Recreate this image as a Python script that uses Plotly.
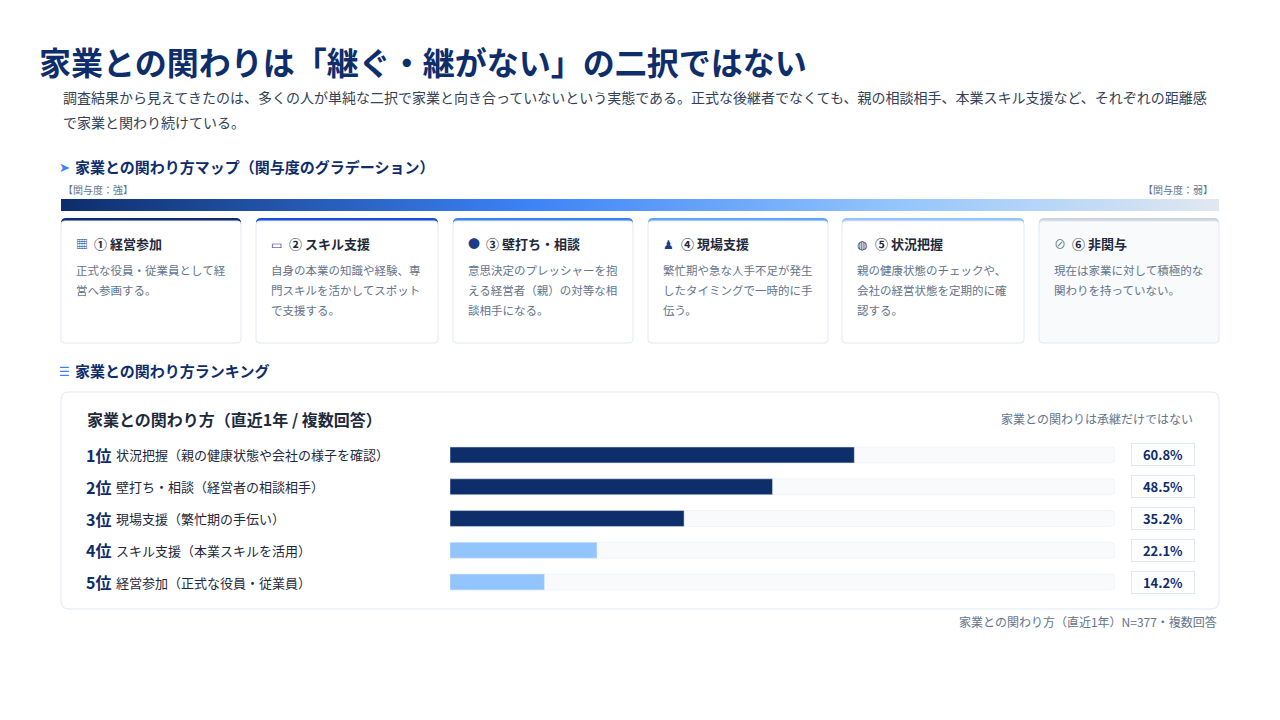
import plotly.graph_objects as go

# ---- data ----
ranks = ["1位", "2位", "3位", "4位", "5位"]
rank_labels = [
    "状況把握（親の健康状態や会社の様子を確認）",
    "壁打ち・相談（経営者の相談相手）",
    "現場支援（繁忙期の手伝い）",
    "スキル支援（本業スキルを活用）",
    "経営参加（正式な役員・従業員）",
]
shares = [60.8, 48.5, 35.2, 22.1, 14.2]

card_titles = ["① 経営参加", "② スキル支援", "③ 壁打ち・相談", "④ 現場支援", "⑤ 状況把握", "⑥ 非関与"]
card_texts = [
    ["正式な役員・従業員として経", "営へ参画する。"],
    ["自身の本業の知識や経験、専", "門スキルを活かしてスポット", "で支援する。"],
    ["意思決定のプレッシャーを抱", "える経営者（親）の対等な相", "談相手になる。"],
    ["繁忙期や急な人手不足が発生", "したタイミングで一時的に手", "伝う。"],
    ["親の健康状態のチェックや、", "会社の経営状態を定期的に確", "認する。"],
    ["現在は家業に対して積極的な", "関わりを持っていない。"],
]
card_icons = ["▦", "▭", "●", "♟", "◍", "⊘"]

intro_lines = [
    "調査結果から見えてきたのは、多くの人が単純な二択で家業と向き合っていないという実態である。正式な後継者でなくても、親の相談相手、本業スキル支援など、それぞれの距離感",
    "で家業と関わり続けている。",
]

W, H = 1280, 720
OFF = 8  # page body margin
FONT = "Noto Sans CJK JP"
NAVY = "#0d2d6b"


def px(x):
    return (x - OFF) / W


def py(y):
    return 1 - (y - OFF) / H


def rrect(x0, y0, x1, y1, r):
    pts = [
        ("M", x0 + r, y0), ("L", x1 - r, y0), ("Q", x1, y0, x1, y0 + r),
        ("L", x1, y1 - r), ("Q", x1, y1, x1 - r, y1), ("L", x0 + r, y1),
        ("Q", x0, y1, x0, y1 - r), ("L", x0, y0 + r), ("Q", x0, y0, x0 + r, y0),
    ]
    out = []
    for p in pts:
        if p[0] == "Q":
            out.append("Q%.5f,%.5f %.5f,%.5f" % (px(p[1]), py(p[2]), px(p[3]), py(p[4])))
        else:
            out.append("%s%.5f,%.5f" % (p[0], px(p[1]), py(p[2])))
    return " ".join(out) + " Z"


fig = go.Figure()
shapes = []
ann = []


def text(x, y, s, size, color, anchor="left", bold=False, **kw):
    if bold:
        s = "<b>" + s + "</b>"
    ann.append(dict(x=px(x), y=py(y), xref="paper", yref="paper", text=s, showarrow=False,
                    xanchor=anchor, yanchor="middle", font=dict(size=size, color=color, family=FONT), **kw))


# header
text(37, 61, "家業との関わりは「継ぐ・継がない」の二択ではない", 32, NAVY, bold=True)
for i, line in enumerate(intro_lines):
    text(61, 97 + 25 * i, line, 14, "#334155")

# map section
text(57, 166, "➤", 13, "#3b82f6")
text(73, 166, "家業との関わり方マップ（関与度のグラデーション）", 15, NAVY, bold=True)
text(61, 189, "【関与度：強】", 10, "#64748b")
text(1215, 189, "【関与度：弱】", 10, "#64748b", anchor="right")

# gradient bar
grad = [i / 100 for i in range(101)]
fig.add_trace(go.Heatmap(z=[grad, grad], x=list(range(101)), y=[0, 1], xaxis="x2", yaxis="y2",
                         colorscale=[[0, NAVY], [0.4, "#3b82f6"], [0.72, "#93c5fd"], [1, "#e2e8f0"]],
                         showscale=False, hoverinfo="skip", zsmooth="best"))

card_x = [(61, 241), (256, 438), (453, 633), (648, 828), (842, 1024), (1039, 1219)]
top_colors = [NAVY, "#1d4ed8", "#3b82f6", "#60a5fa", "#93c5fd", "#cbd5e1"]
for i, (x0, x1) in enumerate(card_x):
    shapes.append(dict(type="path", path=rrect(x0, 218, x1, 250, 5), xref="paper", yref="paper",
                       fillcolor=top_colors[i], line=dict(width=0), layer="below"))
    shapes.append(dict(type="path", path=rrect(x0, 221, x1, 343, 4), xref="paper", yref="paper",
                       fillcolor="#f8fafc" if i == 5 else "white",
                       line=dict(color="#e2e8f0", width=1), layer="below"))
    icol = "#64748b" if i == 5 else "#1e3a8a"
    text(x0 + 13, 244, card_icons[i], 12, icol)
    text(x0 + 31, 244, card_titles[i], 13, "#1e293b", bold=True)
    for j, line in enumerate(card_texts[i]):
        text(x0 + 13, 270 + 20 * j, line, 11.5, "#64748b")

# ranking section
text(57, 370, "☰", 12, "#3b82f6")
text(73, 370, "家業との関わり方ランキング", 15, NAVY, bold=True)
shapes.append(dict(type="path", path=rrect(61, 392, 1219, 609, 8), xref="paper", yref="paper",
                   fillcolor="white", line=dict(color="#e2e8f0", width=1), layer="below"))
text(85, 419, "家業との関わり方（直近1年 / 複数回答）", 16, "#1e293b", bold=True)
text(1195, 418, "家業との関わりは承継だけではない", 12, "#64748b", anchor="right")
text(1219, 621, "家業との関わり方（直近1年）N=377・複数回答", 12, "#64748b", anchor="right")

bar_colors = [NAVY if v >= 30 else "#93c5fd" for v in shares]
fig.add_trace(go.Bar(x=[100] * len(ranks), y=ranks, orientation="h", width=0.5,
                     marker=dict(color="#f8fafc", cornerradius=4), hoverinfo="skip"))
fig.add_trace(go.Bar(x=shares, y=ranks, orientation="h", width=0.5,
                     marker=dict(color=bar_colors, cornerradius=4)))

for r, lab, v in zip(ranks, rank_labels, shares):
    ann.append(dict(x=px(84), y=r, xref="paper", yref="y", text="<b>" + r + "</b>", showarrow=False,
                    xanchor="left", yanchor="middle", font=dict(size=16, color=NAVY, family=FONT)))
    ann.append(dict(x=px(114), y=r, xref="paper", yref="y", text=lab, showarrow=False,
                    xanchor="left", yanchor="middle", font=dict(size=13, color="#1e293b", family=FONT)))
    ann.append(dict(x=px(1162.5), y=r, xref="paper", yref="y", text="<b>%.1f%%</b>" % v, showarrow=False,
                    xanchor="center", yanchor="middle", width=60, height=19, bgcolor="white",
                    bordercolor="#e2e8f0", borderwidth=1, borderpad=1,
                    font=dict(size=13, color=NAVY, family=FONT)))

fig.update_layout(
    width=W, height=H, margin=dict(l=0, r=0, t=0, b=0),
    paper_bgcolor="white", plot_bgcolor="rgba(0,0,0,0)",
    barmode="overlay", showlegend=False,
    font=dict(family=FONT),
    xaxis=dict(domain=[px(450), px(1115)], range=[0, 100], visible=False, fixedrange=True),
    yaxis=dict(domain=[py(597.9), py(439.1)], range=[4.5, -0.5], visible=False,
               categoryorder="array", categoryarray=ranks, fixedrange=True),
    xaxis2=dict(domain=[px(61), px(1219)], range=[0, 100], visible=False, anchor="y2"),
    yaxis2=dict(domain=[py(211), py(199)], range=[0, 1], visible=False, anchor="x2"),
    shapes=shapes, annotations=ann,
)

fig.write_html("out.html")
